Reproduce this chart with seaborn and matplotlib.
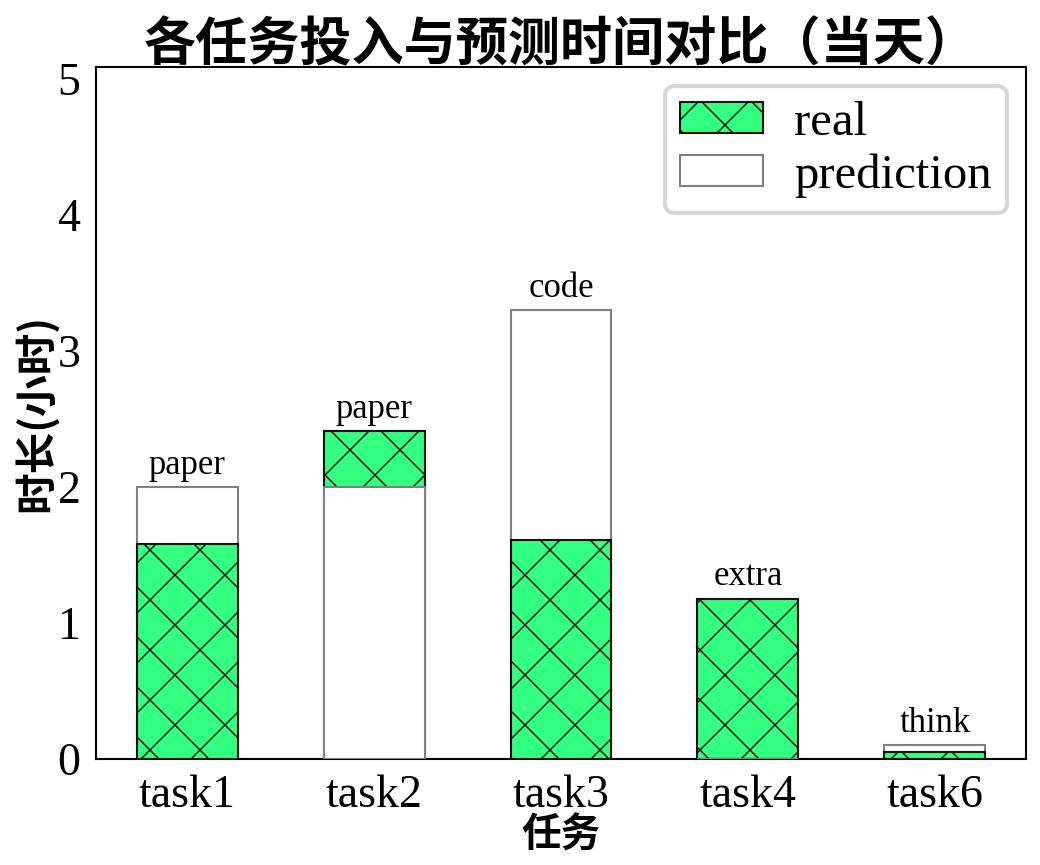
import pandas as pd
import matplotlib
matplotlib.use("Agg")
import matplotlib.pyplot as plt
import seaborn as sns
from matplotlib.patches import Patch

tasks = ["task1", "task2", "task3", "task4", "task6"]
real = [1.58, 2.41, 1.61, 1.18, 0.05]
prediction = [2.0, 2.0, 3.3, 0.0, 0.1]
kinds = ["paper", "paper", "code", "extra", "think"]

green = "#33ff80"

sns.set_style("white", {"text.color": "black", "axes.labelcolor": "black",
                        "xtick.color": "black", "ytick.color": "black"})
plt.rcParams["font.family"] = ["Liberation Serif", "Noto Sans CJK SC"]
plt.rcParams["hatch.linewidth"] = 0.35
plt.rcParams["hatch.color"] = "black"
plt.rcParams["axes.linewidth"] = 0.5

df = pd.DataFrame({
    "task": tasks * 2,
    "value": real + prediction,
    "series": ["real"] * len(tasks) + ["prediction"] * len(tasks),
})

fig = plt.figure(figsize=(1040 / 300, 865 / 300), dpi=300)
ax = fig.add_axes([96 / 1040, 1 - 759 / 865, 930 / 1040, 692 / 865])
sns.barplot(data=df, x="task", y="value", hue="series", dodge=False,
            width=0.54, saturation=1, palette={"real": green, "prediction": "white"},
            legend=False, ax=ax)

real_bars = ax.containers[0]
pred_bars = ax.containers[1]
for i in range(len(tasks)):
    rb, pb = real_bars[i], pred_bars[i]
    rb.set_edgecolor("#111111")
    rb.set_hatch("xx")
    rb.set_linewidth(0.5)
    pb.set_edgecolor("gray")
    pb.set_linewidth(0.5)
    # smaller bar sits on top
    if real[i] <= prediction[i]:
        pb.set_zorder(2)
        rb.set_zorder(3)
    else:
        rb.set_zorder(2)
        pb.set_zorder(3)
    top = max(real[i], prediction[i])
    ax.text(i, top + 0.04, kinds[i], ha="center", va="bottom", fontsize=8.3)

ax.set_xlim(-0.487, 4.487)
ax.set_ylim(0, 5.09)
ax.set_yticks([0, 1, 2, 3, 4, 5])
ax.tick_params(axis="both", labelsize=11, length=1.7, width=0.35, pad=2)
for s in ax.spines.values():
    s.set_linewidth(0.5)
    s.set_color("black")

ax.set_xlabel("任务", family=["Noto Sans CJK SC"], fontweight="heavy", fontsize=9.5, labelpad=-0.5)
ax.set_ylabel("时长(小时)", family=["Noto Sans CJK SC"], fontweight="heavy", fontsize=10, labelpad=0)
ax.set_title("各任务投入与预测时间对比（当天）", family=["Noto Sans CJK SC"],
             fontweight="heavy", fontsize=12.5, pad=1.5)

handles = [
    Patch(facecolor=green, edgecolor="#111111", hatch="xx", linewidth=0.5, label="real"),
    Patch(facecolor="white", edgecolor="gray", linewidth=0.5, label="prediction"),
]
ax.legend(handles=handles, loc="upper right", fontsize=11.7, handlelength=1.7,
          handleheight=0.6, labelspacing=0.17, handletextpad=0.65, borderpad=0.3,
          frameon=True, borderaxespad=0.4)

fig.savefig("out.png", dpi=300)
